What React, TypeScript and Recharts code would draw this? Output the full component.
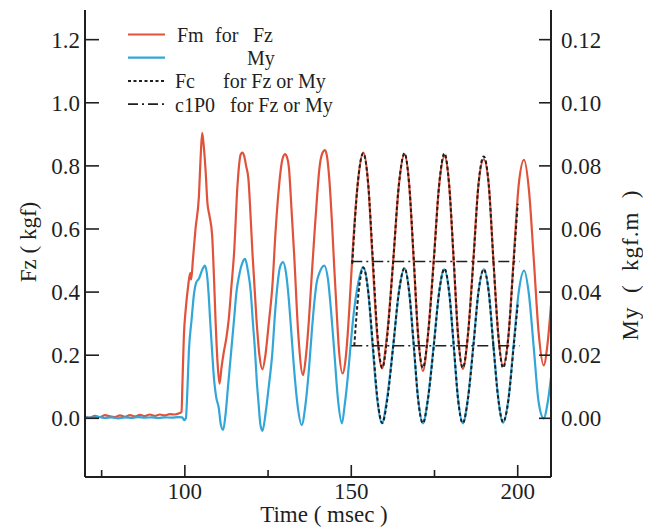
import React from 'react';
import { LineChart, Line, XAxis, YAxis, Legend, Label } from 'recharts';

// ---------- data ----------
const timeTicks = [75, 100, 125, 150, 175, 200];
const timeLabelled = [100, 150, 200];
const fzTicks = [0, 0.2, 0.4, 0.6, 0.8, 1.0, 1.2];
const myTicks = [0, 0.02, 0.04, 0.06, 0.08, 0.1, 0.12];

// Fm for Fz (kgf)
const fmFz = [
  { t: 70, v: 0.006 }, { t: 71.5, v: 0.002 }, { t: 73, v: 0.008 }, { t: 74.5, v: 0.004 },
  { t: 76, v: 0.01 }, { t: 77.5, v: 0.006 }, { t: 79, v: 0.004 }, { t: 80.5, v: 0.009 },
  { t: 82, v: 0.005 }, { t: 83.5, v: 0.01 }, { t: 85, v: 0.006 }, { t: 86.5, v: 0.011 },
  { t: 88, v: 0.007 }, { t: 89.5, v: 0.012 }, { t: 91, v: 0.008 }, { t: 92.5, v: 0.012 },
  { t: 94, v: 0.009 }, { t: 95.5, v: 0.013 }, { t: 97, v: 0.012 }, { t: 98.3, v: 0.016 },
  { t: 99, v: 0.02 }, { t: 99.3, v: 0.12 }, { t: 99.7, v: 0.26 }, { t: 100.3, v: 0.35 },
  { t: 101, v: 0.42 }, { t: 101.6, v: 0.46 }, { t: 101.9, v: 0.44 }, { t: 102.4, v: 0.5 },
  { t: 103.2, v: 0.6 }, { t: 104.2, v: 0.7 }, { t: 104.8, v: 0.84 }, { t: 105.2, v: 0.905 },
  { t: 105.7, v: 0.86 }, { t: 106.2, v: 0.79 }, { t: 106.8, v: 0.68 }, { t: 107.4, v: 0.642 },
  { t: 108.2, v: 0.579 }, { t: 108.7, v: 0.46 }, { t: 109.2, v: 0.316 }, { t: 109.8, v: 0.18 },
  { t: 110.4, v: 0.11 }, { t: 111, v: 0.16 }, { t: 111.7, v: 0.21 }, { t: 112.4, v: 0.25 },
  { t: 113.2, v: 0.316 }, { t: 114, v: 0.42 }, { t: 114.8, v: 0.526 }, { t: 115.8, v: 0.737 },
  { t: 116.8, v: 0.837 }, { t: 117.3, v: 0.842 }, { t: 117.8, v: 0.832 }, { t: 118.4, v: 0.8 },
  { t: 119.1, v: 0.758 }, { t: 119.7, v: 0.65 }, { t: 120.3, v: 0.526 }, { t: 121.5, v: 0.316 },
  { t: 122.4, v: 0.2 }, { t: 123.3, v: 0.155 }, { t: 124.2, v: 0.2 }, { t: 125.2, v: 0.3 },
  { t: 126.3, v: 0.42 }, { t: 127.3, v: 0.6 }, { t: 128.3, v: 0.737 }, { t: 129.3, v: 0.82 },
  { t: 130.1, v: 0.837 }, { t: 130.6, v: 0.83 }, { t: 131.3, v: 0.79 }, { t: 132, v: 0.67 },
  { t: 132.8, v: 0.526 }, { t: 134.1, v: 0.263 }, { t: 135.5, v: 0.137 }, { t: 136.4, v: 0.2 },
  { t: 137.3, v: 0.316 }, { t: 138.1, v: 0.45 }, { t: 138.9, v: 0.579 }, { t: 139.7, v: 0.7 },
  { t: 140.4, v: 0.79 }, { t: 141.3, v: 0.84 }, { t: 142.1, v: 0.85 }, { t: 142.7, v: 0.83 },
  { t: 143.4, v: 0.758 }, { t: 144.2, v: 0.62 }, { t: 144.9, v: 0.474 }, { t: 145.6, v: 0.34 },
  { t: 146.2, v: 0.231 }, { t: 147.4, v: 0.142 }, { t: 148.2, v: 0.18 }, { t: 148.9, v: 0.263 },
  { t: 149.7, v: 0.4 }, { t: 150.4, v: 0.527 }, { t: 151.9, v: 0.74 }, { t: 153.6, v: 0.842 },
  { t: 155.1, v: 0.74 }, { t: 156.4, v: 0.5 }, { t: 157.8, v: 0.26 }, { t: 159.2, v: 0.158 },
  { t: 160.7, v: 0.26 }, { t: 162.6, v: 0.5 }, { t: 164.3, v: 0.74 }, { t: 166, v: 0.837 },
  { t: 167.4, v: 0.74 }, { t: 168.75, v: 0.5 }, { t: 170.1, v: 0.26 }, { t: 171.5, v: 0.15 },
  { t: 173, v: 0.26 }, { t: 174.75, v: 0.5 }, { t: 176.4, v: 0.74 }, { t: 178, v: 0.831 },
  { t: 179.4, v: 0.74 }, { t: 180.75, v: 0.5 }, { t: 182.1, v: 0.26 }, { t: 183.5, v: 0.156 },
  { t: 185, v: 0.26 }, { t: 186.65, v: 0.5 }, { t: 188.2, v: 0.74 }, { t: 189.8, v: 0.821 },
  { t: 191.3, v: 0.74 }, { t: 192.7, v: 0.5 }, { t: 194.2, v: 0.26 }, { t: 195.6, v: 0.166 },
  { t: 197.2, v: 0.26 }, { t: 198.75, v: 0.5 }, { t: 200.3, v: 0.74 }, { t: 201.9, v: 0.819 },
  { t: 203.4, v: 0.72 }, { t: 204.85, v: 0.5 }, { t: 206.3, v: 0.27 }, { t: 207.8, v: 0.168 },
  { t: 209, v: 0.24 }, { t: 210, v: 0.36 },
];

// Fm for My (kgf.m)
const fmMy = [
  { t: 70, v: 0.0004 }, { t: 72, v: 0.0002 }, { t: 74, v: 0.0005 }, { t: 76, v: 0.0001 },
  { t: 78, v: 0.0003 }, { t: 80, v: 0.0 }, { t: 82, v: 0.0003 }, { t: 84, v: 0.0001 },
  { t: 86, v: 0.0004 }, { t: 88, v: 0.0002 }, { t: 90, v: 0.0003 }, { t: 92, v: 0.0001 },
  { t: 94, v: 0.0003 }, { t: 96, v: 0.0002 }, { t: 98, v: 0.0004 }, { t: 99.2, v: 0.0003 },
  { t: 99.8, v: -0.0006 }, { t: 100.3, v: 0.0 }, { t: 100.8, v: 0.01 }, { t: 101.2, v: 0.021 },
  { t: 102, v: 0.031 }, { t: 102.7, v: 0.039 }, { t: 103.4, v: 0.043 }, { t: 104.2, v: 0.0442 },
  { t: 105.2, v: 0.047 }, { t: 106, v: 0.0484 }, { t: 106.6, v: 0.046 }, { t: 107.1, v: 0.04 },
  { t: 107.6, v: 0.031 }, { t: 108.2, v: 0.021 }, { t: 108.8, v: 0.012 }, { t: 109.4, v: 0.0068 },
  { t: 110.2, v: 0.0032 }, { t: 110.8, v: -0.002 }, { t: 111.5, v: -0.0037 }, { t: 112.2, v: 0.001 },
  { t: 113, v: 0.0105 }, { t: 113.9, v: 0.021 }, { t: 114.8, v: 0.0316 }, { t: 115.5, v: 0.04 },
  { t: 116.3, v: 0.0452 }, { t: 117.2, v: 0.049 }, { t: 118.1, v: 0.0505 }, { t: 118.9, v: 0.047 },
  { t: 119.8, v: 0.04 }, { t: 120.4, v: 0.031 }, { t: 121.1, v: 0.021 }, { t: 121.6, v: 0.012 },
  { t: 122.1, v: 0.0053 }, { t: 122.7, v: -0.002 }, { t: 123.3, v: -0.004 }, { t: 124.3, v: 0.002 },
  { t: 125.2, v: 0.01 }, { t: 126.3, v: 0.021 }, { t: 127, v: 0.032 }, { t: 127.8, v: 0.042 },
  { t: 128.6, v: 0.048 }, { t: 129.5, v: 0.0495 }, { t: 130.4, v: 0.046 }, { t: 131.3, v: 0.0368 },
  { t: 132, v: 0.027 }, { t: 132.8, v: 0.0158 }, { t: 134, v: 0.003 }, { t: 135.1, v: -0.0021 },
  { t: 136.2, v: 0.004 }, { t: 137.3, v: 0.0158 }, { t: 138.1, v: 0.027 }, { t: 138.9, v: 0.0368 },
  { t: 139.6, v: 0.043 }, { t: 140.4, v: 0.046 }, { t: 141.9, v: 0.0484 }, { t: 143, v: 0.044 },
  { t: 144, v: 0.033 }, { t: 144.9, v: 0.021 }, { t: 146, v: 0.006 }, { t: 147.2, v: -0.0016 },
  { t: 148, v: 0.004 }, { t: 148.9, v: 0.0126 }, { t: 149.7, v: 0.022 }, { t: 150.6, v: 0.032 },
  { t: 152.1, v: 0.043 }, { t: 153.6, v: 0.0479 }, { t: 155.1, v: 0.04 }, { t: 156.4, v: 0.023 },
  { t: 157.8, v: 0.006 }, { t: 159.2, v: -0.0016 }, { t: 160.7, v: 0.006 }, { t: 162.6, v: 0.023 },
  { t: 164.3, v: 0.04 }, { t: 166, v: 0.0476 }, { t: 167.4, v: 0.04 }, { t: 168.75, v: 0.023 },
  { t: 170.1, v: 0.006 }, { t: 171.5, v: -0.0016 }, { t: 173, v: 0.006 }, { t: 174.75, v: 0.023 },
  { t: 176.4, v: 0.04 }, { t: 177.9, v: 0.0472 }, { t: 179.4, v: 0.04 }, { t: 180.75, v: 0.023 },
  { t: 182.1, v: 0.006 }, { t: 183.5, v: -0.0016 }, { t: 185, v: 0.006 }, { t: 186.65, v: 0.023 },
  { t: 188.2, v: 0.04 }, { t: 189.8, v: 0.0472 }, { t: 191.3, v: 0.04 }, { t: 192.7, v: 0.023 },
  { t: 194.2, v: 0.006 }, { t: 195.6, v: -0.0014 }, { t: 197.2, v: 0.006 }, { t: 198.75, v: 0.023 },
  { t: 200.3, v: 0.04 }, { t: 201.9, v: 0.0468 }, { t: 203.4, v: 0.039 }, { t: 204.85, v: 0.022 },
  { t: 206.3, v: 0.005 }, { t: 207.8, v: 0.0 }, { t: 209, v: 0.005 }, { t: 210, v: 0.013 },
];

// Fc for Fz (kgf)
const fcFz = [
  { t: 150.3, v: 0.49 }, { t: 151.9, v: 0.74 }, { t: 153.6, v: 0.84 }, { t: 155.1, v: 0.74 },
  { t: 156.5, v: 0.5 }, { t: 157.9, v: 0.26 }, { t: 159.3, v: 0.16 }, { t: 160.8, v: 0.26 },
  { t: 162.6, v: 0.5 }, { t: 164.3, v: 0.74 }, { t: 166, v: 0.84 }, { t: 167.4, v: 0.74 },
  { t: 168.8, v: 0.5 }, { t: 170.1, v: 0.26 }, { t: 171.5, v: 0.16 }, { t: 173, v: 0.26 },
  { t: 174.8, v: 0.5 }, { t: 176.4, v: 0.74 }, { t: 178, v: 0.84 }, { t: 179.4, v: 0.74 },
  { t: 180.8, v: 0.5 }, { t: 182.1, v: 0.26 }, { t: 183.5, v: 0.16 }, { t: 185, v: 0.26 },
  { t: 186.7, v: 0.5 }, { t: 188.2, v: 0.74 }, { t: 189.8, v: 0.83 }, { t: 191.3, v: 0.74 },
  { t: 192.7, v: 0.5 }, { t: 194.2, v: 0.26 }, { t: 195.6, v: 0.16 }, { t: 197.2, v: 0.26 },
  { t: 198.8, v: 0.5 }, { t: 200, v: 0.68 },
];

// Fc for My (kgf.m)
const fcMy = [
  { t: 150.9, v: 0.023 }, { t: 152.2, v: 0.04 }, { t: 153.6, v: 0.0478 }, { t: 155.1, v: 0.04 },
  { t: 156.5, v: 0.023 }, { t: 157.9, v: 0.0058 }, { t: 159.3, v: -0.0015 }, { t: 160.8, v: 0.0058 },
  { t: 162.6, v: 0.023 }, { t: 164.3, v: 0.04 }, { t: 166, v: 0.0476 }, { t: 167.4, v: 0.04 },
  { t: 168.8, v: 0.023 }, { t: 170.1, v: 0.0058 }, { t: 171.5, v: -0.0015 }, { t: 173, v: 0.0058 },
  { t: 174.8, v: 0.023 }, { t: 176.4, v: 0.04 }, { t: 178, v: 0.0474 }, { t: 179.4, v: 0.04 },
  { t: 180.8, v: 0.023 }, { t: 182.1, v: 0.0058 }, { t: 183.5, v: -0.0015 }, { t: 185, v: 0.0058 },
  { t: 186.7, v: 0.023 }, { t: 188.2, v: 0.04 }, { t: 189.8, v: 0.0472 }, { t: 191.3, v: 0.04 },
  { t: 192.7, v: 0.023 }, { t: 194.2, v: 0.0058 }, { t: 195.6, v: -0.0012 }, { t: 197.2, v: 0.0058 },
  { t: 198.8, v: 0.023 }, { t: 200, v: 0.036 },
];

// c1P0 levels
const c1p0Fz = [{ t: 150, v: 0.497 }, { t: 200.6, v: 0.497 }];
const c1p0My = [{ t: 150, v: 0.023 }, { t: 200.6, v: 0.023 }];

const legendRows = [
  { key: 'fm', words: [{ text: 'Fm', dx: 0 }, { text: 'for', dx: 38 }, { text: 'Fz', dx: 76 }] },
  { key: 'my', words: [{ text: 'My', dx: 70 }] },
  { key: 'fc', words: [{ text: 'Fc', dx: -2 }, { text: 'for Fz or My', dx: 46 }] },
  { key: 'c1', words: [{ text: 'c1P0', dx: -2 }, { text: 'for Fz or My', dx: 53 }] },
];

// ---------- styling / layout ----------
const W = 641;
const H = 521;
const PL = 77;
const PR = 543;
const PT = 2;
const PB = 469;
const FONT = '"Liberation Serif", "Times New Roman", Times, serif';
const INK = '#1f1f1f';
const RED = '#e0523a';
const BLUE = '#33a6d8';

const BottomTick = (p: any) => {
  const v = p.payload.value;
  const major = timeLabelled.includes(v);
  return (
    <g>
      <line x1={p.x} x2={p.x} y1={PB} y2={PB - (major ? 12 : 7)} stroke={INK} strokeWidth={1.6} />
      {major && (
        <text x={p.x} y={PB + 22} textAnchor="middle" fontFamily={FONT} fontSize={23} fill={INK}>
          {v}
        </text>
      )}
    </g>
  );
};

const TopTick = (p: any) => {
  const v = p.payload.value;
  const major = timeLabelled.includes(v);
  return <line x1={p.x} x2={p.x} y1={PT} y2={PT + (major ? 10 : 6)} stroke={INK} strokeWidth={1.6} />;
};

const LeftTick = (p: any) => (
  <g>
    <line x1={PL} x2={PL + 14} y1={p.y} y2={p.y} stroke={INK} strokeWidth={1.6} />
    <text x={PL - 5} y={p.y + 8} textAnchor="end" fontFamily={FONT} fontSize={23} fill={INK}>
      {Number(p.payload.value).toFixed(1)}
    </text>
  </g>
);

const RightTick = (p: any) => (
  <g>
    <line x1={PR} x2={PR - 12} y1={p.y} y2={p.y} stroke={INK} strokeWidth={1.6} />
    <text x={PR + 10} y={p.y + 8} textAnchor="start" fontFamily={FONT} fontSize={23} fill={INK}>
      {Number(p.payload.value).toFixed(2)}
    </text>
  </g>
);

const XTitle = () => (
  <text x={316} y={514} textAnchor="middle" fontFamily={FONT} fontSize={23} fill={INK}>
    Time ( msec )
  </text>
);

const LeftTitle = () => (
  <text
    x={20}
    y={234}
    transform="rotate(-90 20 234)"
    textAnchor="middle"
    dominantBaseline="central"
    fontFamily={FONT}
    fontSize={23}
    fill={INK}
  >
    Fz ( kgf)
  </text>
);

const RightTitle = () => (
  <text
    x={622}
    y={257}
    transform="rotate(-90 622 257)"
    textAnchor="middle"
    dominantBaseline="central"
    fontFamily={FONT}
    fontSize={23}
    letterSpacing={1}
    style={{ whiteSpace: 'pre' }}
    fill={INK}
  >
    {'My  (  kgf.m  )'}
  </text>
);

const LegendSwatch = ({ kind, y }: { kind: string; y: number }) => {
  const common = { x1: 120, x2: 157, y1: y, y2: y };
  if (kind === 'fm') return <line {...common} stroke={RED} strokeWidth={2.2} />;
  if (kind === 'my') return <line {...common} stroke={BLUE} strokeWidth={2.2} />;
  if (kind === 'fc') return <line {...common} stroke={INK} strokeWidth={2} strokeDasharray="3 2.5" />;
  return <line {...common} stroke={INK} strokeWidth={1.6} strokeDasharray="10 4 2 4" />;
};

const LegendContent = () => (
  <svg width={360} height={120} style={{ display: 'block' }}>
    {legendRows.map((row, i) => {
      const ly = 26.5 + i * 23.2;
      return (
        <g key={row.key}>
          <LegendSwatch kind={row.key} y={ly} />
          {row.words.map((w) => (
            <text
              key={w.text}
              x={169 + w.dx}
              y={ly + 7.5}
              fontFamily={FONT}
              fontSize={20}
              fill={INK}
            >
              {w.text}
            </text>
          ))}
        </g>
      );
    })}
  </svg>
);

export default function App() {
  return (
    <LineChart width={W} height={H} margin={{ top: PT, right: 0, bottom: 0, left: 0 }}>
      <XAxis
        xAxisId="bottom"
        type="number"
        dataKey="t"
        domain={[70, 210]}
        ticks={timeTicks}
        allowDataOverflow
        height={H - PB}
        axisLine={{ stroke: INK, strokeWidth: 2 }}
        tickLine={false}
        tick={BottomTick}
        interval={0}
      >
        <Label content={XTitle} />
      </XAxis>
      <XAxis
        xAxisId="top"
        orientation="top"
        type="number"
        dataKey="t"
        domain={[70, 210]}
        ticks={timeTicks}
        allowDataOverflow
        height={0}
        axisLine={{ stroke: INK, strokeWidth: 2 }}
        tickLine={false}
        tick={TopTick}
        interval={0}
      />
      <YAxis
        yAxisId="fz"
        orientation="left"
        type="number"
        domain={[-0.186, 1.294]}
        ticks={fzTicks}
        allowDataOverflow
        width={PL}
        axisLine={{ stroke: INK, strokeWidth: 2 }}
        tickLine={false}
        tick={LeftTick}
        interval={0}
      >
        <Label content={LeftTitle} />
      </YAxis>
      <YAxis
        yAxisId="my"
        orientation="right"
        type="number"
        domain={[-0.0186, 0.1294]}
        ticks={myTicks}
        allowDataOverflow
        width={W - PR}
        axisLine={{ stroke: INK, strokeWidth: 2 }}
        tickLine={false}
        tick={RightTick}
        interval={0}
      >
        <Label content={RightTitle} />
      </YAxis>
      <Legend
        layout="horizontal"
        verticalAlign="middle"
        align="center"
        wrapperStyle={{ position: 'absolute', left: 0, top: 0, width: 360, height: 120 }}
        content={LegendContent}
      />
      <Line xAxisId="bottom" yAxisId="fz" data={fmFz} dataKey="v" name="Fm for Fz" type="monotone" stroke={RED} strokeWidth={2.2} dot={false} isAnimationActive={false} />
      <Line xAxisId="bottom" yAxisId="my" data={fmMy} dataKey="v" name="My" type="monotone" stroke={BLUE} strokeWidth={2.2} dot={false} isAnimationActive={false} />
      <Line xAxisId="bottom" yAxisId="fz" data={fcFz} dataKey="v" name="Fc for Fz" type="monotone" stroke={INK} strokeWidth={2} strokeDasharray="3.5 2.5" dot={false} isAnimationActive={false} />
      <Line xAxisId="bottom" yAxisId="my" data={fcMy} dataKey="v" name="Fc for My" type="monotone" stroke={INK} strokeWidth={2} strokeDasharray="3.5 2.5" dot={false} isAnimationActive={false} />
      <Line xAxisId="bottom" yAxisId="fz" data={c1p0Fz} dataKey="v" name="c1P0 for Fz" type="linear" stroke={INK} strokeWidth={1.5} strokeDasharray="11 4 2 4" dot={false} isAnimationActive={false} />
      <Line xAxisId="bottom" yAxisId="my" data={c1p0My} dataKey="v" name="c1P0 for My" type="linear" stroke={INK} strokeWidth={1.5} strokeDasharray="11 4 2 4" dot={false} isAnimationActive={false} />
    </LineChart>
  );
}
